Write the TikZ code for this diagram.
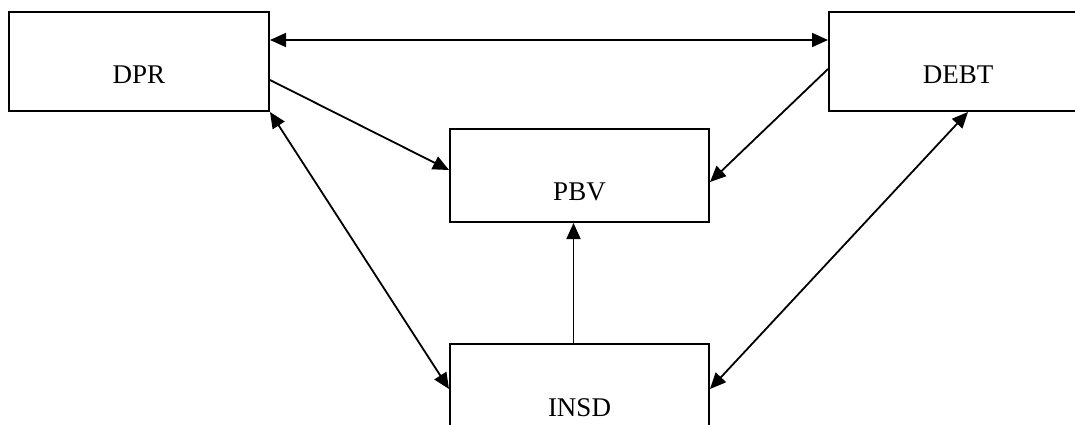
\documentclass[tikz,border=0pt]{standalone}
\usepackage{fontspec}
\setmainfont{Liberation Serif}
\usetikzlibrary{arrows.meta}
\begin{document}
\begin{tikzpicture}[x=1pt,y=-1pt,
  box/.style={draw, line width=2pt, inner sep=0pt, anchor=north west,
    font=\fontsize{27}{32}\selectfont},
  conn/.style={line width=1.8pt, -{Triangle[length=16pt,width=14pt]}},
  dconn/.style={line width=1.8pt, {Triangle[length=16pt,width=14pt]}-{Triangle[length=16pt,width=14pt]}}]
\clip (0,0) rectangle (1075,425);
\fill[white] (0,0) rectangle (1075,425);
\node[box, minimum width=260pt, text height=72pt, text depth=27pt] (dpr) at (8,11) {DPR};
\node[box, minimum width=258pt, text height=72pt, text depth=27pt] (debt) at (828,11) {DEBT};
\node[box, minimum width=259pt, text height=71pt, text depth=22pt] (pbv) at (449,128) {PBV};
\node[box, minimum width=259pt, text height=72pt, text depth=27pt] (insd) at (449,343) {INSD};
\draw[dconn] ([yshift=-29pt]dpr.north east) -- ([yshift=-29pt]debt.north west);
\draw[conn] ([yshift=-69pt]dpr.north east) -- ([yshift=-42pt]pbv.north west);
\draw[conn] ([yshift=-58pt]debt.north west) -- ([yshift=-54pt]pbv.north east);
\draw[conn] ([xshift=-6pt]insd.north) -- ([xshift=-6pt]pbv.south);
\draw[dconn] (dpr.south east) -- ([yshift=-46pt]insd.north west);
\draw[dconn] ([xshift=10pt]debt.south) -- ([yshift=-46pt]insd.north east);
\end{tikzpicture}
\end{document}
